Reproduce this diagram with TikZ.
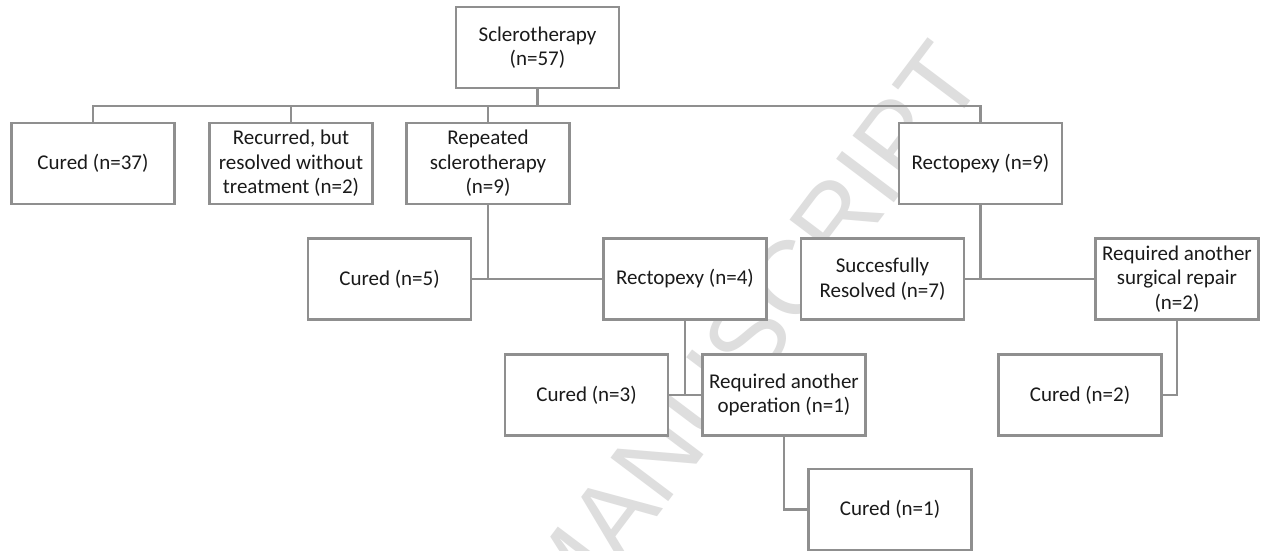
\documentclass[tikz,border=0pt]{standalone}
\usepackage{fontspec}
\setmainfont{Carlito}
\newfontfamily\wmfont{Liberation Sans}
\definecolor{linegray}{HTML}{8F8F8F}
\definecolor{txtcol}{HTML}{1A1A1A}
\definecolor{wmcol}{HTML}{DEDEDE}
\begin{document}
\begin{tikzpicture}[x=1pt,y=-1pt,
  box/.style={draw=linegray, line width=2.3pt, fill=white, minimum width=163pt,
    minimum height=81pt, inner sep=2pt, align=center, text=txtcol,
    font=\fontsize{21}{24.5}\selectfont},
  conn/.style={draw=linegray, line width=2.3pt},
  wmark/.style={text=wmcol, font=\wmfont\fontsize{105}{105}\selectfont, inner sep=0pt, rotate=53}]
\useasboundingbox[fill=white] (0,0) rectangle (1261,550);
% watermark
\begin{scope}
\clip (0,0) rectangle (1261,550);
\node[wmark] (wm) at (749,335) {MANUSCRIPT};
\end{scope}
% nodes
\node[box] (scl) at (537.5,47.5) {Sclerotherapy\\(n=57)};
\node[box] (c37) at (93,163.5) {Cured (n=37)};
\node[box] (rec) at (291,163.5) {Recurred, but\\resolved without\\treatment (n=2)};
\node[box] (rep) at (488,163.5) {Repeated\\sclerotherapy\\(n=9)};
\node[box] (rp9) at (980.5,163.5) {Rectopexy (n=9)};
\node[box] (c5) at (389.5,279) {Cured (n=5)};
\node[box] (rp4) at (685,279) {Rectopexy (n=4)};
\node[box] (suc) at (882.5,279) {Succesfully\\Resolved (n=7)};
\node[box] (rsr) at (1177,279) {Required another\\surgical repair\\(n=2)};
\node[box] (c3) at (586.5,395) {Cured (n=3)};
\node[box] (rop) at (784,395) {Required another\\operation (n=1)};
\node[box] (c2) at (1080,395) {Cured (n=2)};
\node[box] (c1) at (890,509.5) {Cured (n=1)};
% connectors
\coordinate (b0) at (537.5,106);
\draw[conn] (scl.south) -- (b0);
\draw[conn] (c37.north) |- (b0) -| (rp9.north);
\draw[conn] (rec.north) -- (rec.north |- b0);
\draw[conn] (rep.north) -- (rep.north |- b0);
\draw[conn] (rep.south) -- (rep.south |- c5.east);
\draw[conn] (c5.east) -- (rp4.west);
\draw[conn] (rp9.south) -- (rp9.south |- suc.east);
\draw[conn] (suc.east) -- (rsr.west);
\draw[conn] (rp4.south) -- (rp4.south |- c3.east);
\draw[conn] (c3.east) -- (rop.west);
\draw[conn] (rop.south) |- (c1.west);
\draw[conn] (rsr.south) |- (c2.east);
\end{tikzpicture}
\end{document}
